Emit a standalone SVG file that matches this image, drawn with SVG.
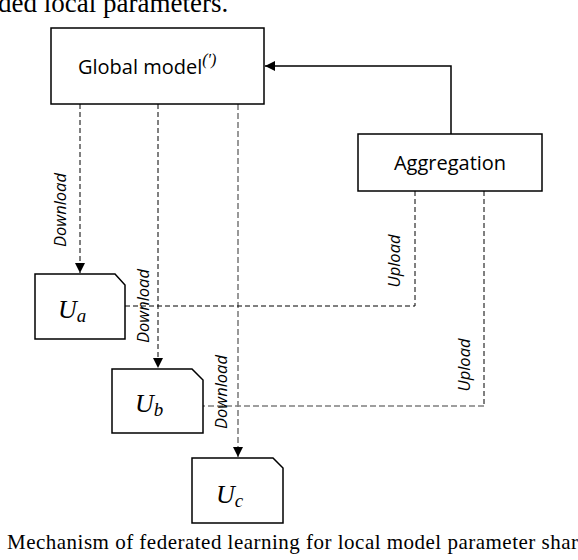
<svg xmlns="http://www.w3.org/2000/svg" width="578" height="560" viewBox="0 0 578 560">
<defs>
<style>
.box{fill:#fff;stroke:#000;stroke-width:1.5}
.lbl{font-family:"Open Sans","Liberation Sans",sans-serif;font-size:20px;fill:#000}
.edge{font-family:"Open Sans","Liberation Sans",sans-serif;font-size:16.5px;font-style:italic;fill:#000;text-anchor:middle}
.u{font-family:"Liberation Serif",serif;font-style:italic;fill:#000}
.dk{fill:none;stroke:#000;stroke-width:1;stroke-dasharray:5 3}
.gr{fill:none;stroke:#7f7f7f;stroke-width:1.6;stroke-dasharray:6 3}
.sol{fill:none;stroke:#000;stroke-width:1.5}
.cap{font-family:"Liberation Serif",serif;fill:#000}
</style>
<marker id="ah" viewBox="0 0 10 10" refX="10" refY="5" markerWidth="10" markerHeight="10" markerUnits="userSpaceOnUse" orient="auto">
<path d="M0,0 L10,5 L0,10 z" fill="#000"/>
</marker>
</defs>
<rect width="578" height="560" fill="#fff"/>
<text class="cap" x="-2" y="12" font-size="27">ded local parameters.</text>

<g id="connectors">
<path class="dk" d="M80,104 V273" marker-end="url(#ah)"/>
<path class="dk" d="M158,104 V368" marker-end="url(#ah)"/>
<path class="gr" d="M238,104 V457" marker-end="url(#ah)"/>
<path class="sol" d="M451,134 V66 H265" marker-end="url(#ah)"/>
<path class="dk" d="M415,191 V306 H125"/>
<path class="dk" d="M484,191 V406"/>
<path class="gr" d="M484,406 H203"/>
<text class="edge" transform="translate(66,210) rotate(-90)">Download</text>
<text class="edge" transform="translate(149,306) rotate(-90)">Download</text>
<text class="edge" transform="translate(227,392) rotate(-90)">Download</text>
<text class="edge" transform="translate(400,261) rotate(-90)">Upload</text>
<text class="edge" transform="translate(470,365) rotate(-90)">Upload</text>
</g>

<g id="global-model">
<rect class="box" x="51" y="28" width="213" height="76"/>
<text class="lbl" x="78" y="74" font-size="20.5">Global model<tspan class="u" font-size="16" dy="-9">(′)</tspan></text>
</g>

<g id="aggregation">
<rect class="box" x="358" y="134" width="184" height="57"/>
<text class="lbl" x="450" y="170" text-anchor="middle">Aggregation</text>
</g>

<g id="Ua">
<path class="box" d="M35,274 H115 L125,285 V339 H35 Z"/>
<text class="u" x="58" y="318" font-size="26">U<tspan font-size="19" dy="4">a</tspan></text>
</g>

<g id="Ub">
<path class="box" d="M112,369 H192 L203,380 V433 H112 Z"/>
<text class="u" x="135" y="412" font-size="26">U<tspan font-size="19" dy="4">b</tspan></text>
</g>

<g id="Uc">
<path class="box" d="M192,458 H273 L283,468 V523 H192 Z"/>
<text class="u" x="216" y="503" font-size="26">U<tspan font-size="19" dy="4">c</tspan></text>
</g>

<text class="cap" x="7" y="549" font-size="21" textLength="571" lengthAdjust="spacing">Mechanism of federated learning for local model parameter shar</text>
</svg>
